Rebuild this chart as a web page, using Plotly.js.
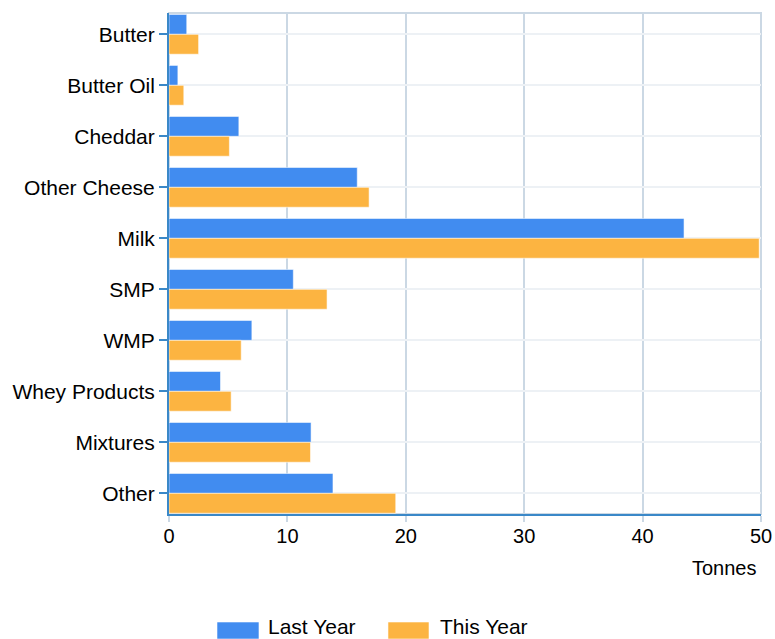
<!DOCTYPE html>
<html>
<head>
<meta charset="utf-8">
<script src="https://cdn.plot.ly/plotly-3.0.1.min.js"></script>
<style>html,body{margin:0;padding:0;background:#fff;}#chart{width:775px;height:639px;}</style>
</head>
<body>
<div id="chart"></div>
<script>
const categories = ["Butter", "Butter Oil", "Cheddar", "Other Cheese", "Milk", "SMP", "WMP", "Whey Products", "Mixtures", "Other"];
const lastYear = [1.5, 0.75, 5.9, 15.9, 43.5, 10.5, 7.0, 4.35, 12.0, 13.85];
const thisYear = [2.5, 1.25, 5.1, 16.9, 49.85, 13.35, 6.1, 5.25, 11.95, 19.15];
const xTicks = [0, 10, 20, 30, 40, 50];
const seriesNames = ["Last Year", "This Year"];
const seriesColors = ["#418CF0", "#FCB441"];

const FONT = "Liberation Sans, Arial, sans-serif";
const traces = [
  {type: "bar", orientation: "h", name: seriesNames[0], y: categories, x: lastYear,
   marker: {color: seriesColors[0], line: {color: "rgba(255,255,255,0.55)", width: 1}}},
  {type: "bar", orientation: "h", name: seriesNames[1], y: categories, x: thisYear,
   marker: {color: seriesColors[1], line: {color: "rgba(255,255,255,0.55)", width: 1}}}
];

// custom legend (wide swatches) in paper coordinates
const legendKeys = [
  {x0: 0.0811, x1: 0.1520, tx: 0.1639},
  {x0: 0.3699, x1: 0.4392, tx: 0.4539}
];
const legendShapes = legendKeys.map((k, i) => ({type: "rect", xref: "paper", yref: "paper",
  x0: k.x0, x1: k.x1, y0: -0.2156, y1: -0.2495, fillcolor: seriesColors[i],
  line: {color: "rgba(255,255,255,0.55)", width: 1}}));
const legendTexts = legendKeys.map((k, i) => ({text: seriesNames[i], xref: "paper", yref: "paper",
  x: k.tx, y: -0.2255, xanchor: "left", yanchor: "middle", showarrow: false,
  font: {size: 21, family: FONT, color: "#000"}}));

const layout = {
  width: 775, height: 639,
  margin: {l: 169, r: 14, t: 13, b: 125},
  paper_bgcolor: "#fff", plot_bgcolor: "#fff",
  font: {family: FONT, size: 20, color: "#000"},
  barmode: "group", bargap: 0.22, bargroupgap: 0,
  xaxis: {range: [0, 50], tickvals: xTicks, ticktext: xTicks.map(String),
    showgrid: true, gridcolor: "#CBD8E4", gridwidth: 2,
    showline: true, linecolor: "#3A88C8", linewidth: 2,
    ticks: "outside", ticklen: 6, tickcolor: "#CBD8E4", tickwidth: 2,
    ticklabelstandoff: -3,
    zeroline: false, automargin: false, tickfont: {size: 20, family: FONT}},
  yaxis: {type: "category", range: [9.405, -0.418],
    showgrid: true, gridcolor: "#EDF1F5", gridwidth: 2,
    showline: true, linecolor: "#3A88C8", linewidth: 2,
    ticks: "outside", ticklen: 8, tickcolor: "#3A88C8", tickwidth: 2,
    automargin: false, tickfont: {size: 21, family: FONT}},
  shapes: [{type: "rect", xref: "paper", yref: "paper", x0: 0, x1: 1, y0: 0, y1: 1,
    line: {color: "#CBD8E4", width: 2}, layer: "below"}].concat(legendShapes),
  annotations: [{text: "Tonnes", xref: "paper", yref: "paper", x: 1, y: 0,
    xanchor: "right", yanchor: "middle", yshift: -54, xshift: -2, showarrow: false,
    font: {size: 20, family: FONT, color: "#000"}}].concat(legendTexts),
  showlegend: false
};
Plotly.newPlot("chart", traces, layout, {displayModeBar: false, staticPlot: true});
</script>
</body>
</html>
